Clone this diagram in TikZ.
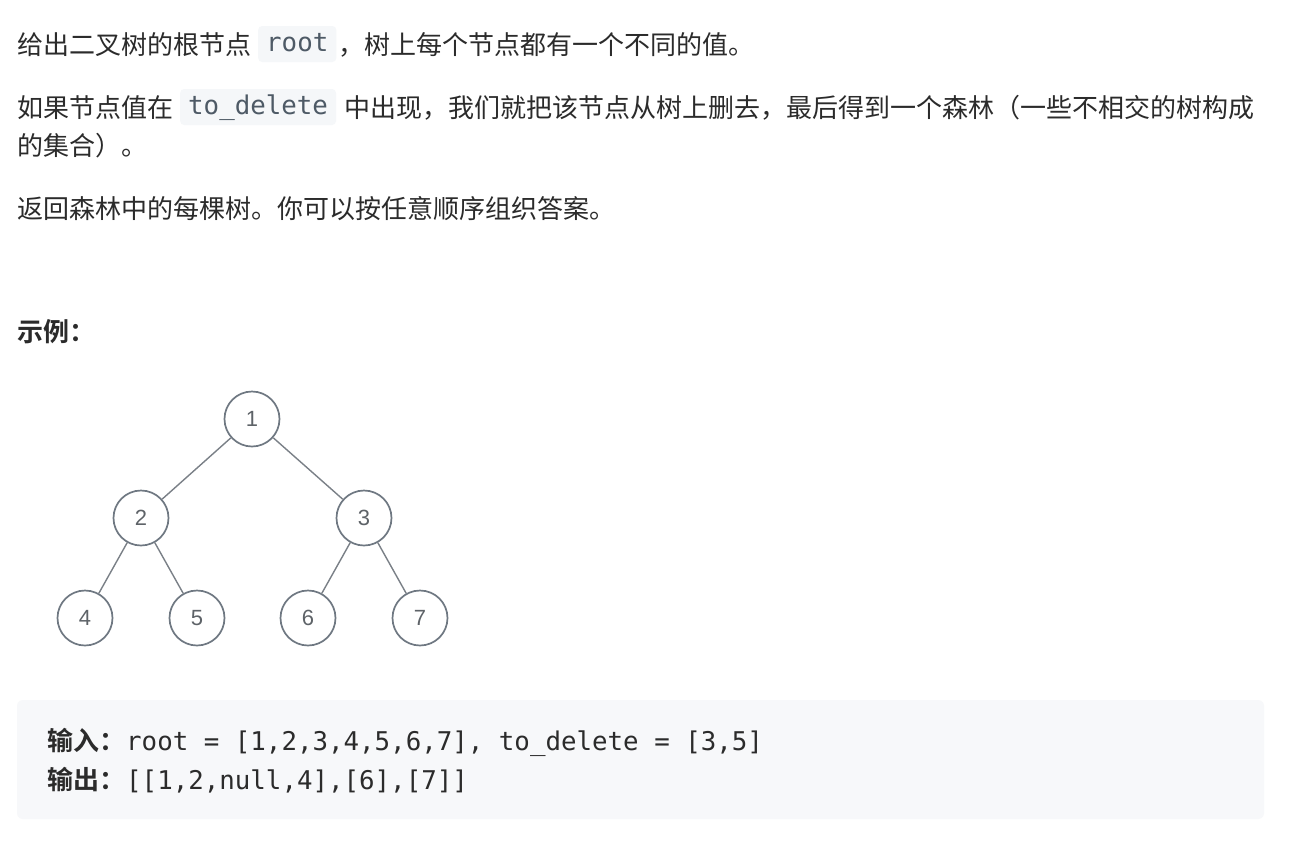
\documentclass[tikz,border=0pt]{standalone}
\usepackage{fontspec}
\setmainfont{Noto Sans CJK SC}
\newfontfamily\cjk{Noto Sans CJK SC}
\newfontfamily\cjkbold{Noto Sans CJK SC Bold}
\newfontfamily\monof{DejaVu Sans Mono}
\newfontfamily\numf{Liberation Sans}
\definecolor{txt}{HTML}{2B2B2B}
\definecolor{codetxt}{HTML}{4E5A66}
\definecolor{codebg}{HTML}{F5F7F9}
\definecolor{blockbg}{HTML}{F7F8FA}
\definecolor{circ}{HTML}{6F7882}
\definecolor{edgec}{HTML}{7A8087}
\definecolor{numc}{HTML}{5E6368}
\tikzset{
  x=1pt, y=-1pt,
  para/.style={anchor=base west, inner sep=0pt, text=txt, font=\cjk\fontsize{26}{30}\selectfont},
  inlinecode/.style={anchor=west, inner xsep=8pt, inner ysep=0pt, minimum height=36pt, fill=codebg,
    rounded corners=4pt, text=codetxt, text height=16pt, text depth=2pt, font=\monof\fontsize{25.8}{30}\selectfont},
  treenode/.style={circle, draw=circ, line width=1.7pt, minimum size=55pt, inner sep=0pt,
    text=numc, font=\numf\fontsize{22}{24}\selectfont, fill=white},
  treeedge/.style={draw=edgec, line width=1.4pt},
  blocktext/.style={anchor=base west, inner sep=0pt, text=txt, font=\monof\fontsize{25.8}{30}\selectfont},
  blocklabel/.style={anchor=base west, inner sep=0pt, text=txt, font=\cjkbold\fontsize{26}{30}\selectfont},
}
\begin{document}
\begin{tikzpicture}
\useasboundingbox (0,0) rectangle (1296,860);
\fill[white] (0,0) rectangle (1296,860);

% line 1
\node[para] (l1a) at (17,54) {给出二叉树的根节点};
\node[inlinecode] (c1) at (258,44) {root};
\node[para] (l1b) at (338,54) {，树上每个节点都有一个不同的值。};

% line 2
\node[para] (l2a) at (17,117) {如果节点值在};
\node[inlinecode] (c2) at (180,107) {to\_delete};
\node[para] (l2b) at (344,117) {中出现，我们就把该节点从树上删去，最后得到一个森林（一些不相交的树构成};
\node[para] (l3) at (17,155) {的集合）。};

% line 4
\node[para] (l4) at (17,218) {返回森林中的每棵树。你可以按任意顺序组织答案。};

% example heading
\node[blocklabel] (ex) at (17,341) {示例：};

% tree
\node[treenode] (n1) at (252,419) {1};
\node[treenode] (n2) at (141,518) {2};
\node[treenode] (n3) at (364,518) {3};
\node[treenode] (n4) at (85,618) {4};
\node[treenode] (n5) at (197,618) {5};
\node[treenode] (n6) at (308,618) {6};
\node[treenode] (n7) at (420,618) {7};
\draw[treeedge] (n1) -- (n2);
\draw[treeedge] (n1) -- (n3);
\draw[treeedge] (n2) -- (n4);
\draw[treeedge] (n2) -- (n5);
\draw[treeedge] (n3) -- (n6);
\draw[treeedge] (n3) -- (n7);

% code block
\fill[blockbg, rounded corners=6pt] (17,700) rectangle (1264,819);
\node[blocklabel] (inl) at (47,750) {输入：};
\node[blocktext] (inv) at (126,750) {root = [1,2,3,4,5,6,7], to\_delete = [3,5]};
\node[blocklabel] (outl) at (47,789) {输出：};
\node[blocktext] (outv) at (126,789) {[[1,2,null,4],[6],[7]]};
\end{tikzpicture}
\end{document}
